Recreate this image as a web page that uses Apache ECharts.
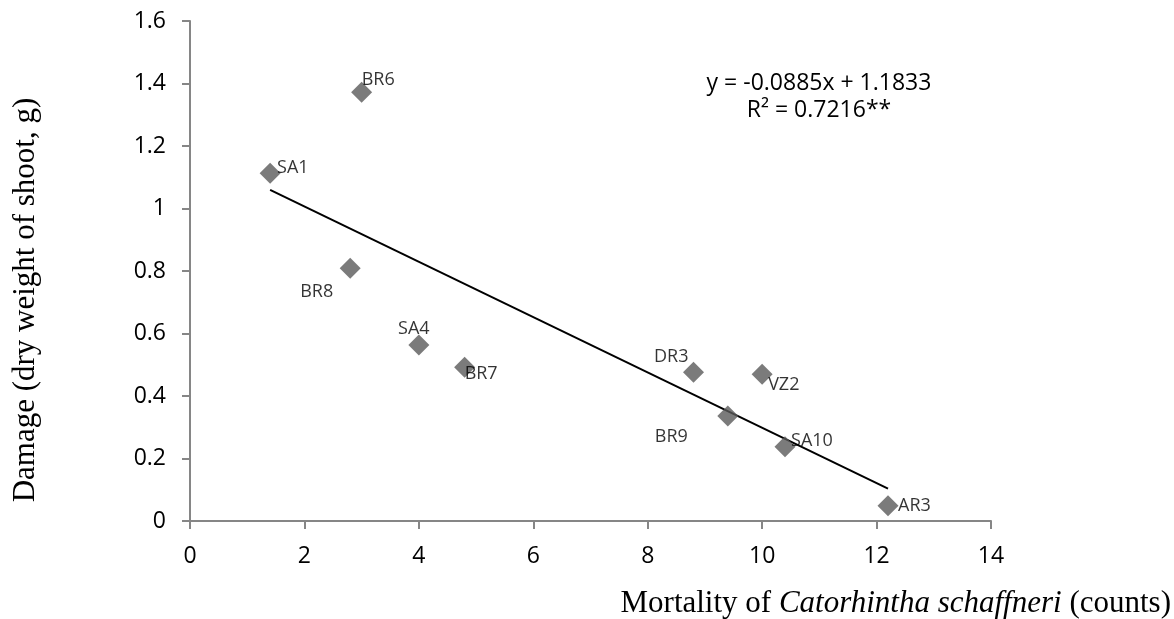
<!DOCTYPE html>
<html>
<head>
<meta charset="utf-8">
<script src="https://cdn.jsdelivr.net/npm/echarts@6/dist/echarts.min.js"></script>
<style>html,body{margin:0;padding:0;background:#fff}#c{width:1174px;height:619px}</style>
</head>
<body>
<div id="c"></div>
<script>
var names = ['SA1','BR6','BR8','SA4','BR7','DR3','VZ2','BR9','SA10','AR3'];
var mortality = [1.4, 3.0, 2.8, 4.0, 4.8, 8.8, 10.0, 9.4, 10.4, 12.2];
var damage = [1.113, 1.372, 0.809, 0.563, 0.492, 0.476, 0.470, 0.336, 0.238, 0.049];
var trendX = [1.4, 12.2];
var trendY = [1.0594, 0.1036];
var eqText = 'y = -0.0885x + 1.1833';
var r2Text = 'R² = 0.7216**';
var xTicks = [0, 2, 4, 6, 8, 10, 12, 14];
var yTicks = [0, 0.2, 0.4, 0.6, 0.8, 1, 1.2, 1.4, 1.6];

var labelStyle = {
  SA1: {align:'left', dx:7, dy:-5},
  BR6: {align:'left', dx:0, dy:-12},
  BR8: {align:'right', dx:-17, dy:24},
  SA4: {align:'center', dx:-5, dy:-16},
  BR7: {align:'left', dx:0, dy:7},
  DR3: {align:'right', dx:-5, dy:-15},
  VZ2: {align:'left', dx:6, dy:11},
  BR9: {align:'right', dx:-40, dy:21},
  SA10: {align:'left', dx:6, dy:-6},
  AR3: {align:'left', dx:10, dy:0}
};

var pts = mortality.map(function(x,i){
  var ls = labelStyle[names[i]];
  return {value:[x, damage[i]], name:names[i],
    label:{show:true, position:'inside', align:ls.align, verticalAlign:'middle', offset:[ls.dx, ls.dy], formatter:names[i]}};
});

var chart = echarts.init(document.getElementById('c'));
var axisCol = '#868686';
chart.setOption({
  animation:false,
  grid:{left:190, right:183, top:21, bottom:98},
  xAxis:{type:'value', min:xTicks[0], max:xTicks[xTicks.length-1], interval:2,
    axisLine:{show:true, lineStyle:{color:axisCol, width:2}},
    axisTick:{show:true, length:8, lineStyle:{color:axisCol, width:2}},
    axisLabel:{color:'#000', fontFamily:'Open Sans', fontSize:23, margin:24},
    splitLine:{show:false}},
  yAxis:{type:'value', min:yTicks[0], max:yTicks[yTicks.length-1], interval:0.2,
    axisLine:{show:true, lineStyle:{color:axisCol, width:2}},
    axisTick:{show:true, length:8, lineStyle:{color:axisCol, width:2}},
    axisLabel:{color:'#000', fontFamily:'Open Sans', fontSize:23, margin:24,
      formatter:function(v){return String(Math.round(v*10)/10);}},
    splitLine:{show:false}},
  series:[
    {type:'line', data:trendX.map(function(x,i){return [x,trendY[i]];}),
     symbol:'none', lineStyle:{color:'#000', width:2}, z:1, silent:true},
    {type:'scatter', data:pts, symbol:'diamond', symbolSize:21,
     itemStyle:{color:'#5a5a5a'},
     label:{color:'#000', fontFamily:'Open Sans', fontSize:18, textBorderWidth:0, textBorderColor:'transparent'},
     z:2}
  ],
  graphic:[
    {type:'text', x:819, y:83, style:{text:eqText, textAlign:'center', textVerticalAlign:'middle', font:'23px "Open Sans"', fill:'#000'}},
    {type:'text', x:819, y:110, style:{text:r2Text, textAlign:'center', textVerticalAlign:'middle', font:'23px "Open Sans"', fill:'#000'}},
    {type:'text', rotation:Math.PI/2, x:26, y:300,
     style:{text:'Damage (dry weight of shoot, g)', textAlign:'center', textVerticalAlign:'middle', font:'31px "Liberation Serif"', fill:'#000'}},
    {type:'text', x:1171, y:604,
     style:{text:'{n|Mortality of }{i|Catorhintha schaffneri}{n| (counts)}', textAlign:'right', textVerticalAlign:'middle',
       rich:{n:{fontFamily:'Liberation Serif', fontSize:31, fill:'#000'}, i:{fontFamily:'Liberation Serif', fontSize:31, fontStyle:'italic', fill:'#000'}}}}
  ]
});
</script>
</body>
</html>
